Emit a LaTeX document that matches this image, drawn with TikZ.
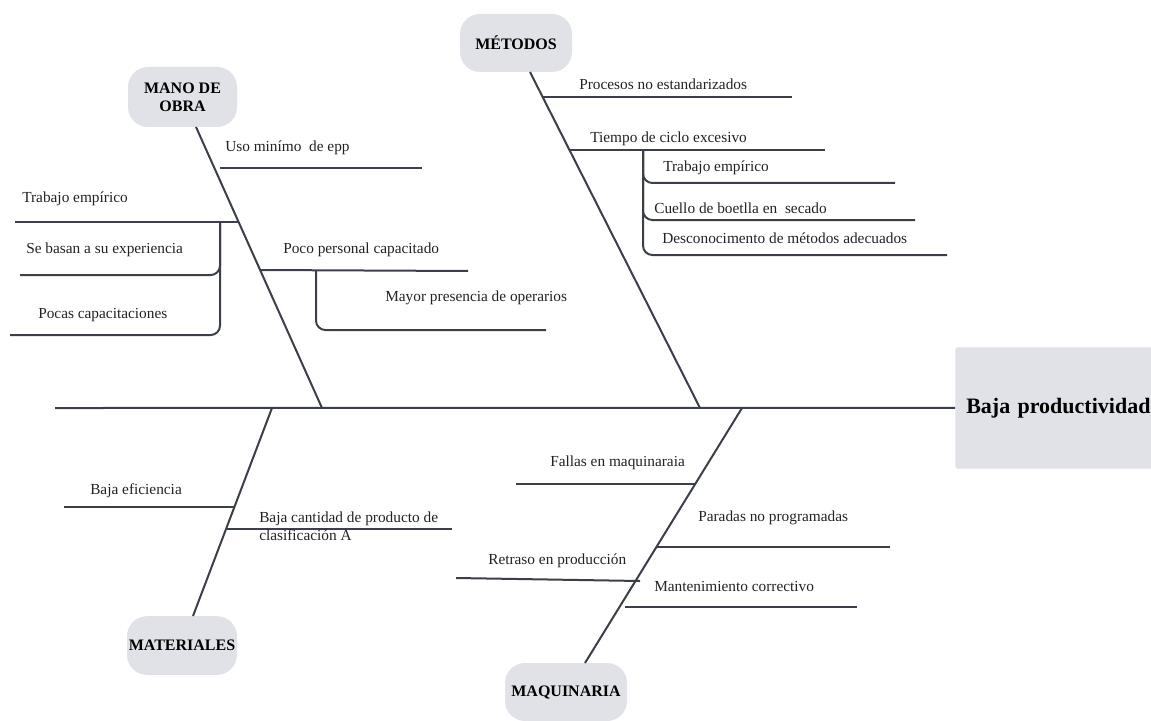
\documentclass[tikz,border=0pt]{standalone}
\usepackage{fontspec}
\setmainfont{Liberation Serif}
\definecolor{bone}{HTML}{3A3F4A}
\definecolor{pill}{HTML}{E0E2E7}
\definecolor{txt}{HTML}{222222}
\begin{document}
\begin{tikzpicture}[x=0.75pt,y=-0.75pt,
  ln/.style={draw=bone,line width=1.5pt},
  sub/.style={draw=bone,line width=1.5pt,rounded corners=7pt},
  cat/.style={fill=pill,rounded corners=15pt,inner sep=0pt,align=center,
    text=black,font=\bfseries\fontsize{12}{13.5}\selectfont},
  lbl/.style={anchor=west,inner sep=0pt,text=txt,font=\fontsize{11.5}{13.5}\selectfont}]
\useasboundingbox (0,0) rectangle (1151,720);

% categories
\node[cat,minimum width=81.75pt,minimum height=45pt] (mo) at (182.5,97) {MANO DE\\OBRA};
\node[cat,minimum width=84pt,minimum height=43.5pt] (met) at (516,43) {MÉTODOS};
\node[cat,minimum width=82.5pt,minimum height=44pt] (mat) at (182,645.5) {MATERIALES};
\node[cat,minimum width=91.5pt,minimum height=43.5pt] (maq) at (566,692) {MAQUINARIA};

% effect
\node[fill=pill,rounded corners=2pt,anchor=north west,minimum width=150pt,minimum height=91pt,
  inner xsep=8.25pt,inner ysep=0pt,text width=133.5pt,align=left,
  font=\bfseries\fontsize{16.5}{18}\selectfont,text=black] (eff) at (955,347) {\mbox{Baja productividad}};

% spine and bones
\coordinate (spL) at (55,408);
\coordinate (moT) at (196,127);
\coordinate (moB) at (322,408);
\coordinate (metT) at (530,72);
\coordinate (metB) at (700,408);
\coordinate (matB) at (193,616);
\coordinate (matT) at (272,408);
\coordinate (maqB) at (585,663);
\coordinate (maqT) at (742,408);
\draw[ln] (spL) -- (eff.west);
\draw[ln] (moT) -- (moB);
\draw[ln] (metT) -- (metB);
\draw[ln] (matT) -- (matB);
\draw[ln] (maqT) -- (maqB);

% MANO DE OBRA branches
\coordinate (a1) at (220,168); \coordinate (a1e) at (422,168);
\draw[ln] (a1) -- (a1e);
\node[lbl] (ta1) at (225,148) {Uso minímo\ \ de epp};
\coordinate (a2) at (238,222); \coordinate (a2e) at (15,222);
\draw[ln] (a2) -- (a2e);
\node[lbl] (ta2) at (22,199) {Trabajo empírico};
\coordinate (a2v) at (220,222);
\coordinate (a21) at (220,275); \coordinate (a21e) at (20,275);
\coordinate (a22) at (220,335); \coordinate (a22e) at (10,335);
\draw[sub] (a2v) -- (a21) -- (a21e);
\draw[sub] (a2v) -- (a22) -- (a22e);
\node[lbl] (ta21) at (26,250) {Se basan a su experiencia};
\node[lbl] (ta22) at (38,315) {Pocas capacitaciones};
\coordinate (a3) at (260,270); \coordinate (a3e) at (468,271);
\draw[ln] (a3) -- (a3e);
\node[lbl] (ta3) at (283,250) {Poco personal capacitado};
\coordinate (a3v) at (316,270);
\coordinate (a31) at (316,330); \coordinate (a31e) at (546,330);
\draw[sub] (a3v) -- (a31) -- (a31e);
\node[lbl] (ta31) at (385,298) {Mayor presencia de operarios};

% METODOS branches
\coordinate (b1) at (543,97); \coordinate (b1e) at (792,97);
\draw[ln] (b1) -- (b1e);
\node[lbl] (tb1) at (579,84) {Procesos no estandarizados};
\coordinate (b2) at (569,150); \coordinate (b2e) at (825,150);
\draw[ln] (b2) -- (b2e);
\node[lbl] (tb2) at (590,139) {Tiempo de ciclo excesivo};
\coordinate (b2v) at (643,150);
\coordinate (b21) at (643,183); \coordinate (b21e) at (895,183);
\coordinate (b22) at (643,220); \coordinate (b22e) at (915,220);
\coordinate (b23) at (643,255); \coordinate (b23e) at (947,255);
\draw[sub] (b2v) -- (b21) -- (b21e);
\draw[sub] (b2v) -- (b22) -- (b22e);
\draw[sub] (b2v) -- (b23) -- (b23e);
\node[lbl] (tb21) at (663,168) {Trabajo empírico};
\node[lbl] (tb22) at (654,208) {Cuello de boetlla en\ \ secado};
\node[lbl] (tb23) at (662,238) {Desconocimento de métodos adecuados};

% MATERIALES branches
\coordinate (c1) at (235,507); \coordinate (c1e) at (64,507);
\draw[ln] (c1) -- (c1e);
\node[lbl] (tc1) at (90,491) {Baja eficiencia};
\coordinate (c2) at (226,529); \coordinate (c2e) at (452,529);
\draw[ln] (c2) -- (c2e);
\node[lbl,align=left] (tc2) at (259,526) {Baja cantidad de producto de\\clasificación A};

% MAQUINARIA branches
\coordinate (d1) at (695,484); \coordinate (d1e) at (516,484);
\draw[ln] (d1) -- (d1e);
\node[lbl] (td1) at (550,463) {Fallas en maquinaraia};
\coordinate (d2) at (657,547); \coordinate (d2e) at (890,547);
\draw[ln] (d2) -- (d2e);
\node[lbl] (td2) at (698,518) {Paradas no programadas};
\coordinate (d3) at (640,581); \coordinate (d3e) at (456,578);
\draw[ln] (d3) -- (d3e);
\node[lbl] (td3) at (488,561) {Retraso en producción};
\coordinate (d4) at (625,607); \coordinate (d4e) at (857,607);
\draw[ln] (d4) -- (d4e);
\node[lbl] (td4) at (654,586) {Mantenimiento correctivo};
\end{tikzpicture}
\end{document}
